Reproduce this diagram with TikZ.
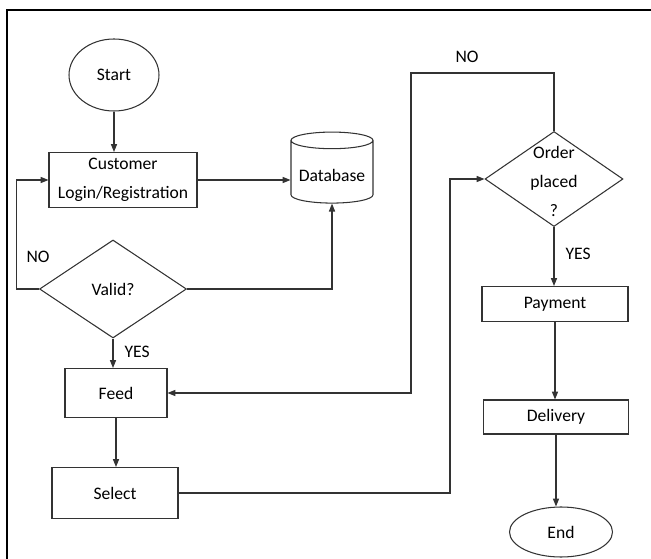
\documentclass[tikz,border=0pt]{standalone}
\usepackage{fontspec}
\setmainfont{Carlito}
\usepackage{tikz}
\usetikzlibrary{shapes.geometric,arrows.meta}

\begin{document}
\begin{tikzpicture}[
	>={Triangle[length=4.5pt,width=3.5pt]},
	every node/.style={font=\fontsize{10}{16.5}\selectfont, align=center},
	flow/.style={draw=black!80, line width=0.6pt},
	box/.style={flow, rectangle, inner sep=0pt},
	term/.style={flow, ellipse, inner sep=0pt},
	test/.style={flow, diamond, inner sep=0pt},
	store/.style={flow, cylinder, shape border rotate=90, shape aspect=0.25, inner sep=0pt}
	]
	\useasboundingbox (0, 0) rectangle (13.02, -11.18);
	\draw [line width=1.7pt] (13.02, -0.20) -- (0.14, -0.20) -- (0.14, -11.18);

	\node [term, minimum width=1.8cm, minimum height=1.44cm] (S) at (2.28, -1.50) {Start};
	\node [box, minimum width=2.96cm, minimum height=1.10cm] (CL) at (2.46, -3.60) {Customer\\Login/Registration};
	\node [store, minimum width=1.64cm, minimum height=1.42cm, text height=11pt] (DB) at (6.64, -3.44) {Database};
	\node [test, minimum width=2.94cm, minimum height=1.96cm] (V) at (2.26, -5.78) {Valid?};
	\node [box, minimum width=2.04cm, minimum height=0.98cm] (F) at (2.32, -7.86) {Feed};
	\node [box, minimum width=2.52cm, minimum height=1.02cm] (SE) at (2.30, -9.86) {Select};
	\node [test, minimum width=2.76cm, minimum height=1.90cm,
		label={[yshift=-1.5pt]center:Order\\placed\\?}] (OP) at (11.08, -3.58) {};
	\node [box, minimum width=2.92cm, minimum height=0.70cm] (P) at (11.10, -6.08) {Payment};
	\node [box, minimum width=2.90cm, minimum height=0.68cm] (D) at (11.12, -8.34) {Delivery};
	\node [term, minimum width=2.06cm, minimum height=1.00cm] (E) at (11.22, -10.64) {End};

	\coordinate (SJ) at (9.00, -3.58);
	\coordinate (OJ) at (8.22, -1.46);
	\node (NOV) at (0.76, -5.14) {NO};
	\node (NOP) at (9.34, -1.14) {NO};

	\draw [flow, ->] (S) -- (S |- CL.north);
	\draw [flow, ->] (CL) -- (CL -| DB.west);
	\draw [flow, ->] (V.east) -| (DB.south);
	\draw [flow, ->] (V.west) -- ++(-0.44, 0) |- (CL.west);
	\draw [flow, ->] (V.south) -- node [pos=0.45, right=3pt] {YES} (V.south |- F.north);
	\draw [flow, ->] (F) -- (F |- SE.north);
	\draw [flow, ->] (SE.east) -| (SJ) -- (OP.west);
	\draw [flow, ->] (OP.north) |- (OJ) |- (F.east);
	\draw [flow, ->] (OP.south) -- node [pos=0.45, right=3pt] {YES} (OP.south |- P.north);
	\draw [flow, ->] (P) -- (P |- D.north);
	\draw [flow, ->] (D) -- (D |- E.north);
\end{tikzpicture}
\end{document}
